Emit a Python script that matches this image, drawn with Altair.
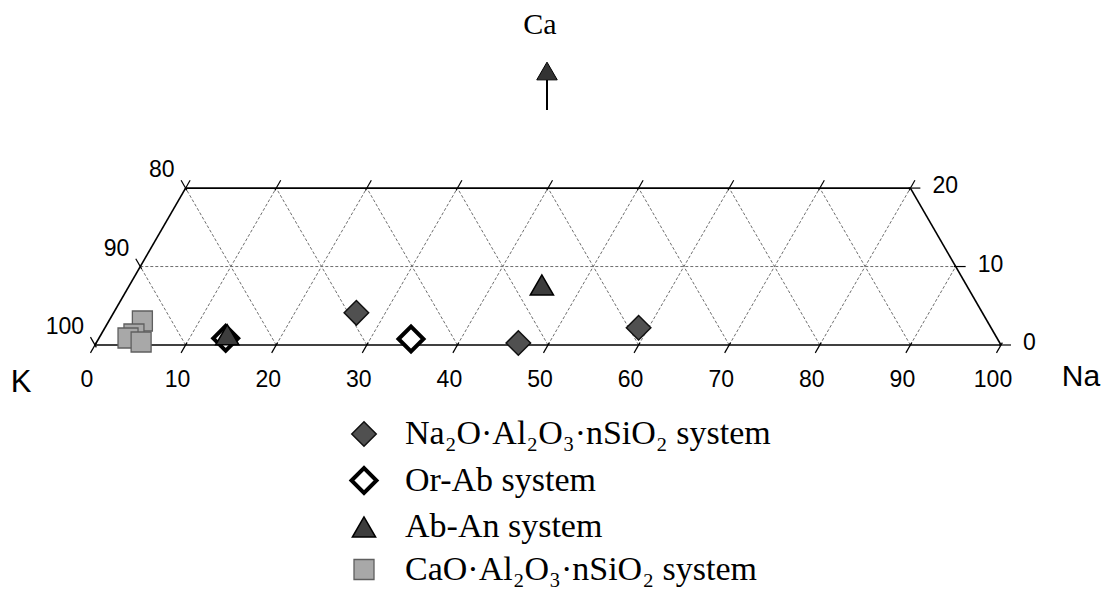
import altair as alt
import pandas as pd
import numpy as np

# ---------------- data ----------------
na_ticks = [0, 10, 20, 30, 40, 50, 60, 70, 80, 90, 100]
k_labels = ["100", "90", "80"]
ca_levels = [0, 10, 20]
ca_labels = ["0", "10", "20"]

series_names = ["Na₂O·Al₂O₃·nSiO₂ system", "Or-Ab system", "Ab-An system",
                "CaO·Al₂O₃·nSiO₂ system"]

na2o_na = [26.8, 46.6, 58.9]
na2o_ca = [4.1, 0.25, 2.2]
orab_na = [14.0, 34.5]
orab_ca = [0.85, 0.76]
aban_na = [13.95, 45.5]
aban_ca = [1.3, 7.65]
cao_na = [3.7, 3.6, 3.2, 4.9]
cao_ca = [3.06, 1.4, 0.89, 0.38]

# ---------------- helpers ----------------
H = np.sqrt(3) / 2


def cart(na, ca):
    return na + ca / 2.0, ca * H


S = 9.06  # px per unit
x_min = (8 - 95) / S
x_max = x_min + 1098 / S
y_max = (345 - 8) / S
y_min = y_max - 579 / S
xs = alt.Scale(domain=[x_min, x_max], nice=False, zero=False)
ys = alt.Scale(domain=[y_min, y_max], nice=False, zero=False)


def seg_df(segs):
    rows = []
    for (na1, ca1, na2, ca2) in segs:
        x1, y1 = cart(na1, ca1)
        x2, y2 = cart(na2, ca2)
        rows.append({"x": x1, "y": y1, "x2": x2, "y2": y2})
    return pd.DataFrame(rows)


def rules(df, **kw):
    return alt.Chart(df).mark_rule(**kw).encode(
        x=alt.X("x:Q", scale=xs, axis=None),
        y=alt.Y("y:Q", scale=ys, axis=None),
        x2="x2:Q", y2="y2:Q")


top_ca = ca_levels[-1]
inner = na_ticks[1:-1]

# dashed grid segments
grid = []
for n in inner:  # constant Na lines
    grid.append((n, 0, n, min(top_ca, 100 - n)))
for m in inner:  # constant K lines
    c = min(top_ca, m)
    grid.append((m, 0, m - c, c))
for c in ca_levels[1:-1]:  # horizontal
    grid.append((0, c, 100 - c, c))

# outline
outline = [(0, 0, 100, 0), (0, top_ca, 100 - top_ca, top_ca),
           (0, 0, 0, top_ca), (100, 0, 100 - top_ca, top_ca)]

# tick segments
t = 1.0
tick_rows = []
for n in na_ticks:  # bottom
    x, y = cart(n, 0)
    tick_rows.append({"x": x + 0.3 * t * 0.5, "y": y + 0.3 * t * H,
                      "x2": x - 0.5 * t, "y2": y - H * t})
for n in na_ticks:  # top
    if n > 100 - top_ca:
        continue
    x, y = cart(n, top_ca)
    tick_rows.append({"x": x - 0.3 * t * 0.5, "y": y - 0.3 * t * H,
                      "x2": x + 0.5 * t, "y2": y + H * t})
for c in ca_levels:  # right
    x, y = cart(100 - c, c)
    tick_rows.append({"x": x - 0.2, "y": y, "x2": x + 1.1, "y2": y})
for c in ca_levels:  # left
    x, y = cart(0, c)
    tick_rows.append({"x": x + 0.15, "y": y - 0.3 * H,
                      "x2": x - 0.5 * t, "y2": y + H * t})
ticks_df = pd.DataFrame(tick_rows)

grid_layer = rules(seg_df(grid), color="#6f6f6f", strokeWidth=1, strokeDash=[3, 2])
outline_layer = rules(seg_df(outline), color="black", strokeWidth=1.6)
tick_layer = rules(ticks_df, color="black", strokeWidth=1.2)

# tick labels
lab_font = "Liberation Sans"
bx = [cart(n, 0)[0] for n in na_ticks]
bot_df = pd.DataFrame({"x": bx, "y": [0.0] * len(na_ticks),
                       "label": [str(n) for n in na_ticks]})
bot_lab = alt.Chart(bot_df).mark_text(font=lab_font, fontSize=23, dx=-8, dy=35,
                                      baseline="middle", align="center",
                                      color="black").encode(
    x=alt.X("x:Q", scale=xs, axis=None), y=alt.Y("y:Q", scale=ys, axis=None),
    text="label:N")

left_pts = [cart(0, c) for c in ca_levels]
left_df = pd.DataFrame({"x": [p[0] for p in left_pts], "y": [p[1] for p in left_pts],
                        "label": k_labels})
left_lab = alt.Chart(left_df).mark_text(font=lab_font, fontSize=23, dx=-11, dy=-18,
                                        baseline="middle", align="right",
                                        color="black").encode(
    x=alt.X("x:Q", scale=xs, axis=None), y=alt.Y("y:Q", scale=ys, axis=None),
    text="label:N")

right_pts = [cart(100 - c, c) for c in ca_levels]
right_df = pd.DataFrame({"x": [p[0] for p in right_pts], "y": [p[1] for p in right_pts],
                         "label": ca_labels})
right_lab = alt.Chart(right_df).mark_text(font=lab_font, fontSize=23, dx=22, dy=-2,
                                          baseline="middle", align="left",
                                          color="black").encode(
    x=alt.X("x:Q", scale=xs, axis=None), y=alt.Y("y:Q", scale=ys, axis=None),
    text="label:N")

# points
rows = []
for name, nas, cas in zip(series_names,
                          [na2o_na, orab_na, aban_na, cao_na],
                          [na2o_ca, orab_ca, aban_ca, cao_ca]):
    for na, ca in zip(nas, cas):
        x, y = cart(na, ca)
        rows.append({"series": name, "Na": na, "Ca": ca, "K": 100 - na - ca,
                     "x": x, "y": y})
pts_df = pd.DataFrame(rows)
order_map = {"Or-Ab system": 0, "CaO·Al₂O₃·nSiO₂ system": 1,
             "Na₂O·Al₂O₃·nSiO₂ system": 2, "Ab-An system": 3}
pts_df["ord"] = pts_df["series"].map(order_map)

leg = alt.Legend(title=None, orient="none", legendX=339, legendY=409,
                 labelFont="Liberation Serif", labelFontSize=34, labelColor="black",
                 labelOffset=24, rowPadding=8.5, padding=0, labelLimit=600,
                 symbolOpacity=1)

points = alt.Chart(pts_df).mark_point(filled=True, opacity=1).encode(
    x=alt.X("x:Q", scale=xs, axis=None),
    y=alt.Y("y:Q", scale=ys, axis=None),
    shape=alt.Shape("series:N", legend=leg,
                    scale=alt.Scale(domain=series_names,
                                    range=["diamond", "diamond", "triangle-up", "square"])),
    fill=alt.Fill("series:N", legend=leg,
                  scale=alt.Scale(domain=series_names,
                                  range=["#505050", "#ffffff", "#3d3d3d", "#a8a8a8"])),
    stroke=alt.Stroke("series:N", legend=leg,
                      scale=alt.Scale(domain=series_names,
                                      range=["#111111", "#000000", "#000000", "#5f5f5f"])),
    strokeWidth=alt.StrokeWidth("series:N", legend=leg,
                                scale=alt.Scale(type="ordinal", domain=series_names,
                                                range=[1.5, 4.0, 1.5, 1.3])),
    size=alt.Size("series:N", legend=leg,
                  scale=alt.Scale(type="ordinal", domain=series_names,
                                  range=[600, 620, 540, 400])),
    order=alt.Order("ord:Q"),
    tooltip=["series:N", "Na:Q", "Ca:Q", "K:Q"],
)

one = pd.DataFrame({"a": [0]})
k_title = alt.Chart(one).mark_text(text="K", font=lab_font, fontSize=31, color="black",
                                   align="center", baseline="middle").encode(
    x=alt.value(13), y=alt.value(375))
na_title = alt.Chart(one).mark_text(text="Na", font=lab_font, fontSize=30, color="black",
                                    align="center", baseline="middle").encode(
    x=alt.value(1073), y=alt.value(369))
ca_title = alt.Chart(one).mark_text(text="Ca", font="Liberation Serif", fontSize=30,
                                    color="black", align="center",
                                    baseline="middle").encode(
    x=alt.value(532), y=alt.value(17))
arrow_line = alt.Chart(one).mark_rule(color="black", strokeWidth=2).encode(
    x=alt.value(539), y=alt.value(72), y2=alt.value(102))
arrow_head = alt.Chart(one).mark_point(shape="triangle-up", filled=True, opacity=1,
                                       size=420, fill="#333333", stroke="black",
                                       strokeWidth=1).encode(
    x=alt.value(539), y=alt.value(63))

chart = alt.layer(grid_layer, outline_layer, tick_layer, bot_lab, left_lab, right_lab,
                  points, k_title, na_title, ca_title, arrow_line, arrow_head).properties(
    width=1098, height=579, padding=0,
    autosize=alt.AutoSizeParams(type="none"),
    background="white",
).configure_view(stroke=None)

chart.save("out.html", embed_options={"renderer": "svg", "actions": False})
